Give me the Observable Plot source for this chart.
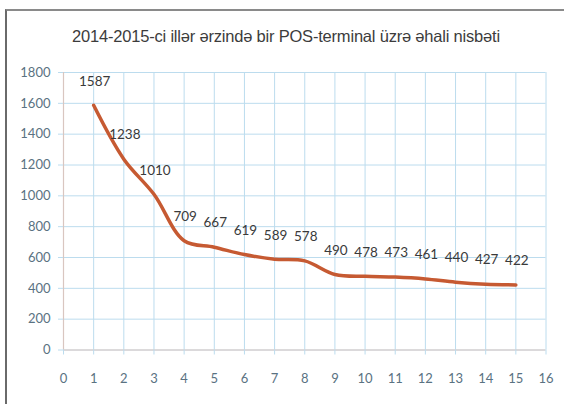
<!DOCTYPE html>
<html>
<head>
<meta charset="utf-8">
<script src="https://cdn.jsdelivr.net/npm/d3@7"></script>
<script src="https://cdn.jsdelivr.net/npm/@observablehq/plot@0.6"></script>
<style>
  html, body { margin: 0; padding: 0; background: #fff; width: 564px; height: 404px; overflow: hidden; }
  #frame { position: absolute; left: 5px; top: 9px; width: 600px; height: 420px;
           border-left: 2px solid #6a6a6a; border-top: 2px solid #8a8a8a; }
  #title { position: absolute; left: 0; top: 27px; width: 572px; text-align: center;
           font-family: "Liberation Sans", Arial, sans-serif; font-size: 16.5px; color: #3c3c3c; letter-spacing: -0.2px; }
  #chart { position: absolute; left: 0; top: 52px; }
</style>
</head>
<body>
<div id="frame"></div>
<div id="title">2014-2015-ci illər ərzində bir POS-terminal üzrə əhali nisbəti</div>
<div id="chart"></div>
<script>
const periods = [1,2,3,4,5,6,7,8,9,10,11,12,13,14,15];
const ratio = [1587,1238,1010,709,667,619,589,578,490,478,473,461,440,427,422];
const xTicks = d3.range(0, 17, 1);
const yTicks = d3.range(0, 1801, 200);

const data = periods.map((p, i) => ({p, v: ratio[i]}));

const gridColor = "#bcdcee";
const tickColor = "#5a7282";

const chart = Plot.plot({
  width: 564,
  height: 352,
  marginLeft: 63,
  marginRight: 18.5,
  marginTop: 20,
  marginBottom: 54.5,
  style: {fontFamily: "Lato, sans-serif", fontSize: "13px", background: "transparent"},
  x: {domain: [0, 16], ticks: xTicks, label: null},
  y: {domain: [0, 1800], ticks: yTicks, label: null},
  marks: [
    Plot.gridX(xTicks, {stroke: gridColor, strokeOpacity: 1, strokeWidth: 1}),
    Plot.gridY(yTicks, {stroke: gridColor, strokeOpacity: 1, strokeWidth: 1}),
    Plot.ruleY([0], {stroke: "#d9c6c0", strokeWidth: 1.2}),
    Plot.ruleX([0], {stroke: "#d9c6c0", strokeWidth: 1.2}),
    Plot.axisX(xTicks, {tickSize: 5, tickPadding: 19, stroke: gridColor, fill: tickColor, fontSize: 13, tickFormat: d => String(d)}),
    Plot.axisY(yTicks, {tickSize: 5, tickPadding: 8, stroke: gridColor, fill: tickColor, fontSize: 13, tickFormat: d => String(d)}),
    Plot.line(data, {x: "p", y: "v", stroke: "#c65a32", strokeWidth: 3.5, curve: "catmull-rom"}),
    Plot.text(data, {x: "p", y: "v", text: d => String(d.v), dy: -24, dx: 1, fill: "#3a3a3a", fontSize: 13.5})
  ]
});
document.getElementById("chart").appendChild(chart);
</script>
</body>
</html>
